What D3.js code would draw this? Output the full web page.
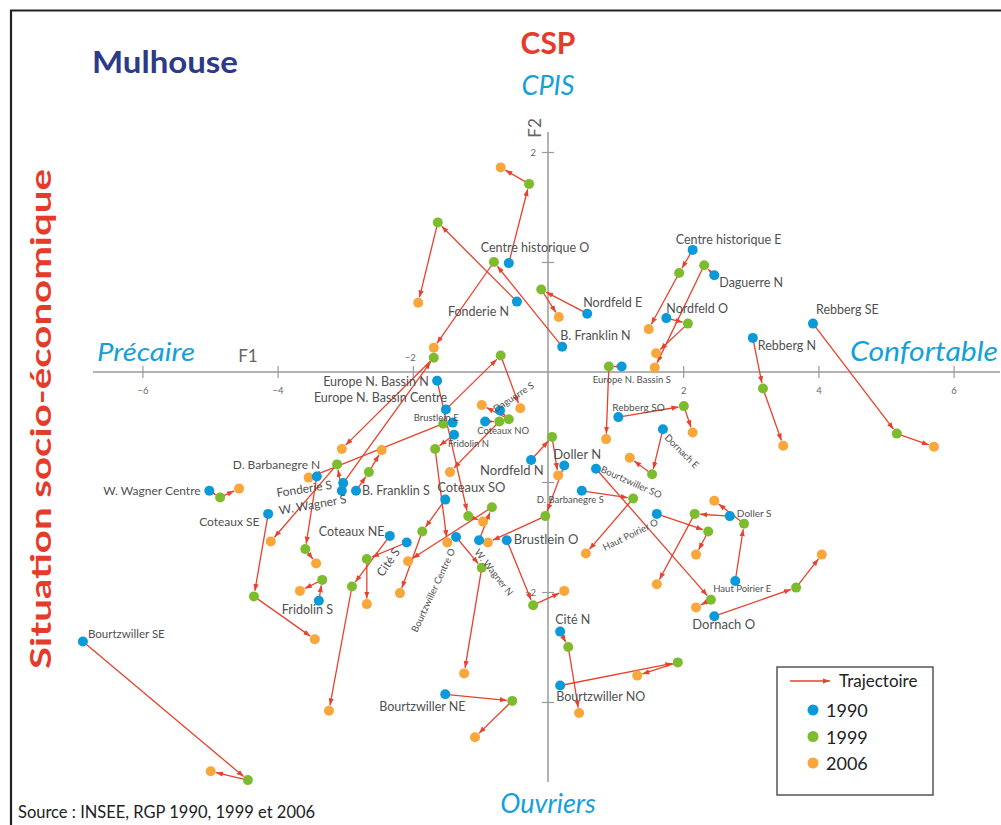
<!DOCTYPE html>
<html><head><meta charset="utf-8">
<script src="https://cdn.jsdelivr.net/npm/d3@7"></script>
<style>
body{margin:0;background:#fff}
svg{display:block}
text{font-family:Lato,"Open Sans",sans-serif}
</style>
</head><body>
<svg id="c" width="1001" height="825"></svg>
<script>
// ---------- DATA (factorial coordinates F1 / F2) ----------
const quartiers = ["Centre historique O","Fonderie N","B. Franklin N","Nordfeld E","Centre historique E","Daguerre N","Nordfeld O","Rebberg SE","Rebberg N","Europe N. Bassin S","Rebberg SO","Dornach E","Nordfeld N","Doller N","Brustlein O","Bourtzwiller SO","D. Barbanegre S","Haut Poirier O","Doller S","Haut Poirier E","Dornach O","Cité N","Bourtzwiller NO","Bourtzwiller NE","Bourtzwiller SE","W. Wagner Centre","Coteaux SE","Fridolin S","D. Barbanegre N","Fonderie S","W. Wagner S","B. Franklin S","Coteaux SO","Coteaux NE","Cité S","Bourtzwiller Centre O","W. Wagner N","Europe N. Bassin N","Europe N. Bassin Centre","Brustlein E","Fridolin N","Coteaux NO","Daguerre S"];
const x1990 = [-0.58,-0.46,0.21,0.58,2.14,2.46,1.75,3.92,3.03,1.09,1.04,1.70,-0.25,0.24,-0.61,0.71,0.50,1.61,2.69,2.77,2.46,0.18,0.18,-1.52,-6.88,-5.01,-4.14,-3.39,-3.42,-3.03,-3.05,-2.84,-1.52,-2.34,-2.09,-1.36,-1.02,-1.64,-1.51,-1.41,-1.39,-0.93,-0.71];
const y1990 = [0.99,0.64,0.23,0.53,1.11,0.88,0.49,0.44,0.31,0.05,-0.41,-0.52,-0.80,-0.85,-1.53,-0.88,-1.08,-1.29,-1.31,-1.90,-2.22,-2.36,-2.85,-2.93,-2.45,-1.08,-1.29,-2.08,-0.95,-1.01,-1.08,-1.08,-1.16,-1.49,-1.55,-1.50,-1.53,-0.08,-0.34,-0.46,-0.57,-0.45,-0.35];
const x1999 = [-0.28,-1.63,-0.80,-0.10,1.94,2.31,2.07,5.16,3.18,0.90,2.01,1.54,0.06,-0.04,-0.22,2.41,1.26,2.37,2.17,2.90,3.67,0.30,1.92,-0.53,-4.44,-4.85,-4.35,-3.34,-3.59,-1.69,-3.12,-2.65,-1.86,-2.90,-2.68,-0.98,-0.83,-1.18,-0.70,-1.55,-1.67,-0.72,-0.58];
const y1999 = [1.71,1.36,1.00,0.75,0.90,0.97,0.44,-0.56,-0.15,0.05,-0.31,-0.93,-0.59,-1.31,-2.12,-2.07,-1.15,-1.45,-1.29,-1.38,-1.96,-2.50,-2.64,-2.99,-3.71,-1.14,-2.04,-1.89,-1.61,0.13,-0.84,-0.91,-1.45,-1.95,-1.70,-1.78,-1.23,-1.31,0.15,-0.47,-0.70,-0.45,-0.43];
const x2006 = [-0.70,-1.92,-1.69,0.16,1.49,1.58,1.60,5.71,3.48,0.86,2.14,1.21,0.15,-0.89,0.24,2.19,0.56,2.19,1.61,2.46,4.05,0.46,1.32,-1.08,-4.99,-4.57,-3.45,-3.67,-3.43,-3.05,-4.10,-2.46,-2.19,-3.24,-2.68,-1.24,-2.07,-0.96,-0.41,-3.54,-1.49,-1.45,-0.98];
const y2006 = [1.86,0.63,0.22,0.50,0.39,0.04,0.17,-0.68,-0.67,-0.61,-0.55,-0.78,-0.94,-1.55,-1.99,-2.14,-1.65,-1.66,-1.93,-1.17,-1.66,-3.10,-2.76,-3.32,-3.63,-1.06,-2.43,-1.99,-1.74,-0.70,-1.54,-0.71,-2.01,-3.08,-2.11,-2.74,-1.72,-1.36,-0.33,-0.96,-1.55,-0.91,-0.30];
const years = ["1990","1999","2006"];
const xTicks = [-6,-4,-2,2,4,6];
const yTicks = [2,1,-1,-2,-3];
const yTickLabels = [2,-2];

// ---------- label layout (offset from 1990 point, px) ----------
const labelLayout = {
 "Centre historique O":[-28,-11,12.5,0],"Fonderie N":[-69,14,12.5,0],"B. Franklin N":[-2,-7,12.5,0],
 "Nordfeld E":[-4,-7,12.5,0],"Centre historique E":[-17,-6,12.5,0],"Daguerre N":[5,12,12.5,0],
 "Nordfeld O":[0,-5,12.5,0],"Rebberg SE":[3,-10,12.5,0],"Rebberg N":[5,12,12.5,0],
 "Europe N. Bassin S":[-29,16,9.5,0],"Rebberg SO":[-6,-6,10,0],"Dornach E":[1,9,9.5,45],
 "Nordfeld N":[-51,15,13,0],"Doller N":[-11,-7,13,0],"Brustlein O":[7,4,13,0],
 "Bourtzwiller SO":[4,3,9.5,24],"D. Barbanegre S":[-45,12,9.5,0],"Haut Poirier O":[-52,37,9.5,-26],
 "Doller S":[7,1,10,0],"Haut Poirier E":[-22,11,9.5,0],"Dornach O":[-22,13,13,0],
 "Cité N":[-5,-8,12.5,0],"Bourtzwiller NO":[-4,15,12.5,0],"Bourtzwiller NE":[-66,17,12.5,0],
 "Bourtzwiller SE":[5,-4,11.5,0],"W. Wagner Centre":[-106,4,12,0],"Coteaux SE":[-69,12,12,0],
 "Fridolin S":[-37,13,12.5,0],"D. Barbanegre N":[-84,-8,12,0],"Fonderie S":[-66,14,12,-8.6],
 "W. Wagner S":[-62,24,12,-10],"B. Franklin S":[6,4,12.5,0],"Coteaux SO":[-8,-8,13,0],
 "Coteaux NE":[-71,0,12.5,0],"Cité S":[-24,35,12,-55],"Bourtzwiller Centre O":[-39,96,9.5,-65],
 "W. Wagner N":[-5,12,9.5,52],"Europe N. Bassin N":[-114,5,12.5,0],"Europe N. Bassin Centre":[-132,-7,12.5,0],
 "Brustlein E":[-39,-2,9.5,0],"Fridolin N":[-6,12,9.5,0],"Coteaux NO":[-8,12,9.5,0],"Daguerre S":[-4,2,9.5,-33]
};

// ---------- CHART ----------
const svg = d3.select("#c");
const x = d3.scaleLinear().domain([-6,6]).range([548-6*67.6, 548+6*67.6]);
const y = d3.scaleLinear().domain([2,-2]).range([152,592]);
const color = d3.scaleOrdinal().domain(years).range(["#0a9ad9","#7dbc2e","#f9a63a"]);
const red = "#e8412c", cyan = "#14a0db", axisCol = "#9a9a9a", labCol = "#505050";

// frame
svg.append("path").attr("d","M1003,10.5 H11 V830").attr("fill","none").attr("stroke","#222").attr("stroke-width",2.2);

// arrow markers
const defs = svg.append("defs");
defs.append("marker").attr("id","ah").attr("viewBox","0 -3 7 6").attr("refX",7).attr("refY",0)
  .attr("markerWidth",7).attr("markerHeight",6).attr("markerUnits","userSpaceOnUse").attr("orient","auto")
  .append("path").attr("d","M0,-2.6L7,0L0,2.6Z").attr("fill",red);

// axes
const x0 = x(0), y0 = y(0);
svg.append("line").attr("x1",93).attr("x2",1000).attr("y1",y0).attr("y2",y0).attr("stroke",axisCol).attr("stroke-width",1.5);
svg.append("line").attr("x1",x0).attr("x2",x0).attr("y1",132).attr("y2",782).attr("stroke",axisCol).attr("stroke-width",1.5);

const xAxis = svg.append("g").attr("transform",`translate(0,${y0})`)
  .call(d3.axisBottom(x).tickValues(xTicks).tickSize(6).tickPadding(9).tickFormat(d3.format("d")));
xAxis.select(".domain").remove();
xAxis.selectAll(".tick line").attr("y1",-6).attr("y2",6).attr("stroke",axisCol).attr("stroke-width",1.2);
xAxis.selectAll(".tick text").attr("fill","#666").attr("font-size",9.5).attr("font-family","Lato");
xAxis.selectAll(".tick").filter(d=>d===-2).select("text").attr("y",-18).attr("dy","0.71em").attr("dx",-3);

const yAxis = svg.append("g").attr("transform",`translate(${x0},0)`)
  .call(d3.axisLeft(y).tickValues(yTicks).tickSize(6).tickPadding(6).tickFormat(d=>yTickLabels.includes(d)?d3.format("d")(d):""));
yAxis.select(".domain").remove();
yAxis.selectAll(".tick line").attr("x1",-6).attr("x2",6).attr("stroke",axisCol).attr("stroke-width",1.2);
yAxis.selectAll(".tick text").attr("fill","#666").attr("font-size",9.5).attr("font-family","Lato");

svg.append("text").attr("x",248).attr("y",362).attr("text-anchor","middle").attr("font-size",17).attr("fill","#666").text("F1");
svg.append("text").attr("transform",`translate(${x0-7},128) rotate(-90)`).attr("text-anchor","middle").attr("font-size",17).attr("fill","#666").text("F2");

// data rows
const rows = quartiers.map((q,i)=>({name:q,pts:[[x1990[i],y1990[i]],[x1999[i],y1999[i]],[x2006[i],y2006[i]]]}));
const R = 5;

// trajectories
const segs = [];
rows.forEach(r=>{ for(let k=0;k<2;k++){ segs.push({a:r.pts[k],b:r.pts[k+1]}); }});
svg.append("g").selectAll("line").data(segs).join("line")
  .each(function(s){
    const ax=x(s.a[0]), ay=y(s.a[1]), bx=x(s.b[0]), by=y(s.b[1]);
    const dx=bx-ax, dy=by-ay, L=Math.hypot(dx,dy)||1;
    const sh=Math.min(R+0.5, L*0.4);
    d3.select(this).attr("x1",ax).attr("y1",ay).attr("x2",bx-dx/L*sh).attr("y2",by-dy/L*sh);
  })
  .attr("stroke",red).attr("stroke-width",1.3).attr("marker-end","url(#ah)");

// dots
[2,1,0].forEach(k=>{
  svg.append("g").selectAll("circle").data(rows).join("circle")
    .attr("cx",r=>x(r.pts[k][0])).attr("cy",r=>y(r.pts[k][1])).attr("r",R).attr("fill",color(years[k]));
});

// labels
svg.append("g").selectAll("text").data(rows).join("text")
  .attr("transform",r=>{const L=labelLayout[r.name]; return `translate(${x(r.pts[0][0])+L[0]},${y(r.pts[0][1])+L[1]}) rotate(${L[3]})`;})
  .attr("font-size",r=>labelLayout[r.name][2]).attr("fill",labCol).text(r=>r.name);

// titles
svg.append("text").attr("x",92).attr("y",73).attr("font-size",30).attr("font-weight",700).attr("fill","#2c3a88").attr("textLength",146).attr("lengthAdjust","spacingAndGlyphs").text("Mulhouse");
svg.append("text").attr("x",x0).attr("y",54).attr("text-anchor","middle").attr("font-size",30).attr("font-weight",700).attr("fill","#e63a2a").text("CSP");
svg.append("text").attr("x",x0).attr("y",95).attr("text-anchor","middle").attr("font-size",27).attr("font-style","italic").attr("fill",cyan).text("CPIS");
svg.append("text").attr("x",x0).attr("y",813).attr("text-anchor","middle").attr("font-size",27).attr("font-style","italic").attr("fill",cyan).text("Ouvriers");
svg.append("text").attr("x",97).attr("y",361).attr("font-size",26).attr("font-style","italic").attr("fill",cyan).attr("textLength",98).attr("lengthAdjust","spacingAndGlyphs").text("Précaire");
svg.append("text").attr("x",850).attr("y",361).attr("font-size",27).attr("font-style","italic").attr("fill",cyan).attr("textLength",148).attr("lengthAdjust","spacingAndGlyphs").text("Confortable");
svg.append("text").attr("transform","translate(51,419) rotate(-90)").attr("text-anchor","middle").attr("font-size",29).attr("font-weight",700).attr("fill","#e63a2a").attr("textLength",500).attr("lengthAdjust","spacingAndGlyphs").text("Situation socio-économique");
svg.append("text").attr("x",18).attr("y",818).attr("font-size",16.5).attr("fill","#222").text("Source : INSEE, RGP 1990, 1999 et 2006");

// legend
const lg = svg.append("g");
lg.append("rect").attr("x",777).attr("y",667).attr("width",156).attr("height",128).attr("fill","#fff").attr("stroke","#555").attr("stroke-width",1.5);
lg.append("line").attr("x1",790).attr("x2",830).attr("y1",681).attr("y2",681).attr("stroke",red).attr("stroke-width",1.4).attr("marker-end","url(#ah)");
lg.append("text").attr("x",839).attr("y",687).attr("font-size",17).attr("fill","#222").text("Trajectoire");
years.forEach((yr,i)=>{
  lg.append("circle").attr("cx",813).attr("cy",710+i*26.5).attr("r",5.5).attr("fill",color(yr));
  lg.append("text").attr("x",826).attr("y",717+i*26.5).attr("font-size",18).attr("fill","#222").text(yr);
});
</script>
</body></html>
